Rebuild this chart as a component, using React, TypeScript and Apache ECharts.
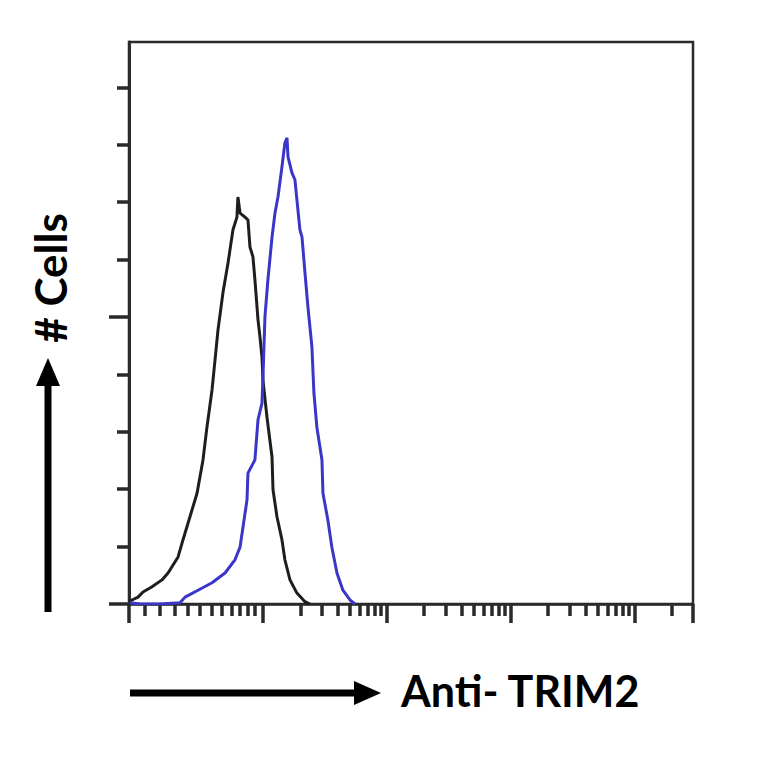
import React, { useEffect, useRef } from "react";
import * as echarts from "echarts";

// x in axis units (decades of fluorescence, logicle-like low end), y in relative cell counts
const isotypeX = [0.919, 0.944, 0.992, 1.032, 1.105, 1.185, 1.234, 1.315, 1.355, 1.411, 1.468, 1.516, 1.548, 1.589, 1.613, 1.637, 1.677, 1.718, 1.758, 1.790, 1.798, 1.815, 1.855, 1.879, 1.895, 1.919, 1.935, 1.960, 1.976, 1.992, 2.000, 2.032, 2.073, 2.081, 2.113, 2.153, 2.177, 2.218, 2.274, 2.339, 2.379];
const isotypeY = [0.5, 0.7, 1.2, 2.1, 3.0, 4.2, 5.4, 8.2, 11.2, 15.2, 19.3, 25.1, 30.8, 37.3, 42.5, 47.7, 54.2, 59.4, 65.2, 67.4, 70.9, 68.1, 67.4, 66.9, 62.2, 60.5, 56.5, 49.5, 46.5, 43.0, 39.0, 32.6, 25.6, 19.9, 15.2, 11.2, 7.7, 4.2, 1.9, 0.4, 0];

const trim2X = [0.927, 1.008, 1.169, 1.331, 1.371, 1.476, 1.589, 1.694, 1.774, 1.815, 1.839, 1.871, 1.879, 1.935, 1.960, 1.992, 2.000, 2.008, 2.016, 2.040, 2.073, 2.097, 2.121, 2.153, 2.177, 2.194, 2.202, 2.234, 2.258, 2.274, 2.298, 2.315, 2.339, 2.363, 2.395, 2.411, 2.435, 2.476, 2.484, 2.524, 2.556, 2.597, 2.645, 2.702, 2.742];
const trim2Y = [0.2, 0, 0, 0.2, 1.2, 2.4, 3.7, 5.4, 7.7, 9.9, 13.4, 18.1, 22.8, 25.1, 32.1, 35.0, 39.6, 44.8, 50.0, 56.5, 63.9, 68.1, 70.9, 76.1, 80.3, 81.2, 77.9, 75.1, 73.9, 70.4, 65.2, 63.9, 57.7, 51.7, 44.8, 36.8, 30.8, 25.1, 19.3, 14.6, 9.9, 5.4, 2.4, 0.7, 0];

const X_MIN = 0.919;
const X_MAX = 5.47;
const Y_MAX = 97.9;

const xMajorTicks = [X_MIN, 2, 3, 4, 5, X_MAX];
const xLowMinorTicks = [1.048, 1.169, 1.290, 1.395, 1.492, 1.589, 1.669, 1.750, 1.815, 1.879, 1.935];
const decades = [2, 3, 4, 5];
const subMultiples = [2, 3, 4, 5, 6, 7, 8, 9];
const xMinorTicks = xLowMinorTicks.concat(
  ...decades.map((d) => subMultiples.map((k) => d + Math.log10(k)).filter((v) => v < X_MAX))
);

const yLongTicks = [0, 50];
const yShortTicks = [10, 20, 30, 40, 60, 70, 80, 90];

const xTitle = "Anti- TRIM2";
const yTitle = "# Cells";

export default function App() {
  const ref = useRef<HTMLDivElement>(null);
  useEffect(() => {
    if (!ref.current) return;
    const chart = echarts.init(ref.current, null, { renderer: "svg" });
    const axisColor = "#2a2a2a";
    const font = "Lato, 'Open Sans', sans-serif";
    const tickStyle = { color: axisColor, width: 3.5 };
    chart.setOption({
      animation: false,
      backgroundColor: "#fff",
      grid: {
        left: 129,
        top: 42,
        width: 564,
        height: 562,
        show: true,
        borderColor: axisColor,
        borderWidth: 2.5,
        backgroundColor: "transparent",
      },
      xAxis: [
        {
          type: "value",
          min: X_MIN,
          max: X_MAX,
          position: "bottom",
          axisLine: { show: true, lineStyle: { color: axisColor, width: 2.5 } },
          axisTick: { show: true, customValues: xMajorTicks, length: 19, lineStyle: tickStyle },
          axisLabel: { show: false },
          splitLine: { show: false },
        },
        {
          type: "value",
          min: X_MIN,
          max: X_MAX,
          position: "bottom",
          axisLine: { show: false },
          axisTick: { show: true, customValues: xMinorTicks, length: 12, lineStyle: tickStyle },
          axisLabel: { show: false },
          splitLine: { show: false },
        },
      ],
      yAxis: [
        {
          type: "value",
          min: 0,
          max: Y_MAX,
          axisLine: { show: true, lineStyle: { color: axisColor, width: 3 } },
          axisTick: { show: true, customValues: yLongTicks, length: 20, lineStyle: tickStyle },
          axisLabel: { show: false },
          splitLine: { show: false },
        },
        {
          type: "value",
          min: 0,
          max: Y_MAX,
          position: "left",
          axisLine: { show: false },
          axisTick: { show: true, customValues: yShortTicks, length: 12, lineStyle: tickStyle },
          axisLabel: { show: false },
          splitLine: { show: false },
        },
      ],
      series: [
        {
          name: "Isotype control",
          type: "line",
          xAxisIndex: 0,
          yAxisIndex: 0,
          showSymbol: false,
          data: isotypeX.map((x, i) => [x, isotypeY[i]]),
          lineStyle: { color: "#1e1e1e", width: 3 },
          z: 3,
        },
        {
          name: "Anti-TRIM2",
          type: "line",
          xAxisIndex: 0,
          yAxisIndex: 0,
          showSymbol: false,
          data: trim2X.map((x, i) => [x, trim2Y[i]]),
          lineStyle: { color: "#3a36c8", width: 3 },
          z: 4,
        },
      ],
      graphic: [
        { type: "line", shape: { x1: 130, y1: 693, x2: 358, y2: 693 }, style: { stroke: "#000", lineWidth: 7 } },
        { type: "polygon", shape: { points: [[354, 681], [381, 693], [354, 705]] }, style: { fill: "#000" } },
        { type: "line", shape: { x1: 48, y1: 612, x2: 48, y2: 382 }, style: { stroke: "#000", lineWidth: 7 } },
        { type: "polygon", shape: { points: [[36, 386], [48, 358], [60, 386]] }, style: { fill: "#000" } },
        {
          type: "text",
          x: 401,
          y: 690,
          style: { text: xTitle, fill: "#000", font: `bold 43px ${font}`, textVerticalAlign: "middle", textAlign: "left" },
        },
        {
          type: "text",
          x: 50,
          y: 278,
          rotation: Math.PI / 2,
          style: { text: yTitle, fill: "#000", font: `bold 44px ${font}`, textVerticalAlign: "middle", textAlign: "center" },
        },
      ],
    });
    return () => chart.dispose();
  }, []);
  return <div ref={ref} style={{ position: "fixed", left: 0, top: 0, width: 764, height: 764 }} />;
}
